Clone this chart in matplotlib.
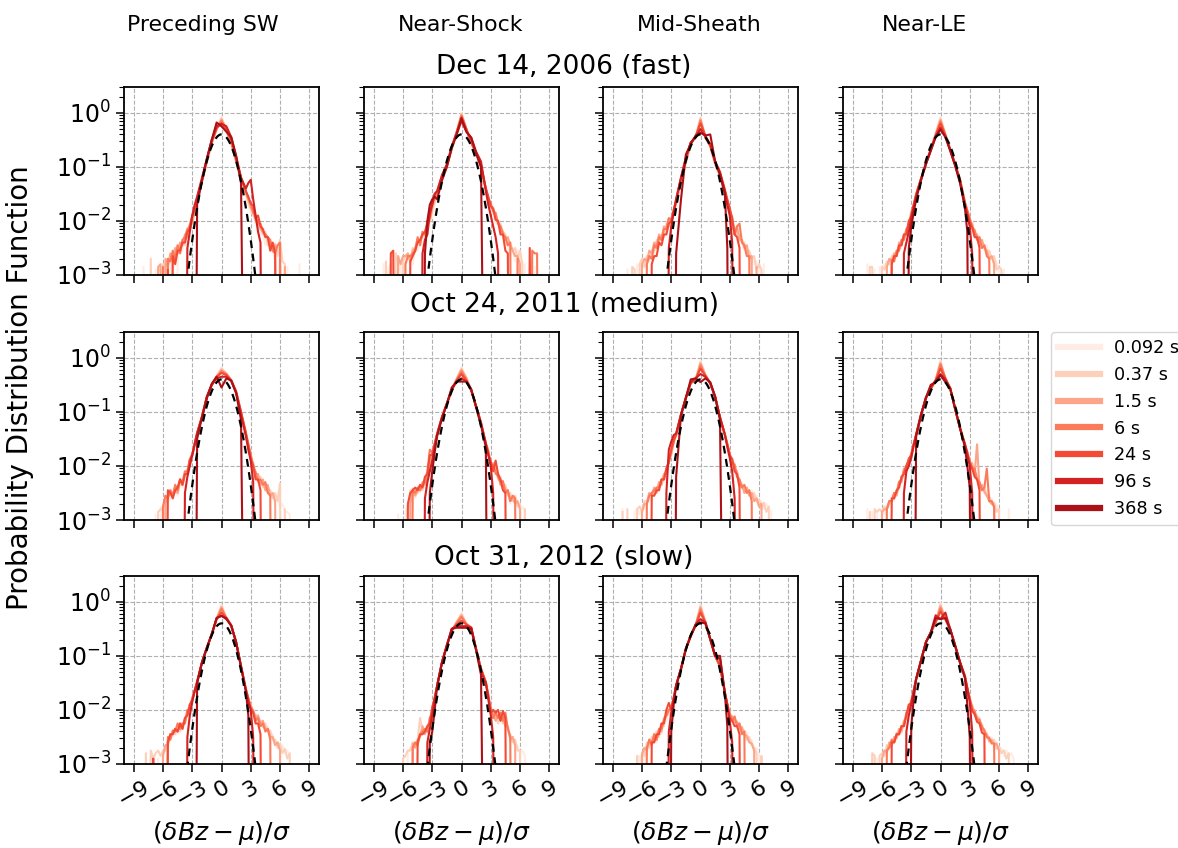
import numpy as np
import matplotlib
matplotlib.use("Agg")
import matplotlib.pyplot as plt

# ---------------- data ----------------
Z = -9.0  # empty histogram bin (zero count) -> drops off the log axis

# bin centres: fine in the tails, coarser in the core
bin_centers = [-8.0, -7.75, -7.5, -7.25, -7.0, -6.75, -6.5, -6.25, -6.0, -5.75, -5.5,
               -5.25, -5.0, -4.75, -4.5, -4.25, -4.0, -3.75, -3.5, -3.25, -3.0, -2.75,
               -2.5, -2.0, -1.5, -1.0, -0.5, 0.0, 0.5, 1.0, 1.5, 2.0, 2.5,
               2.75, 3.0, 3.25, 3.5, 3.75, 4.0, 4.25, 4.5, 4.75, 5.0, 5.25,
               5.5, 5.75, 6.0, 6.25, 6.5, 6.75, 7.0, 7.25, 7.5, 7.75, 8.0]

scales = ['0.092 s', '0.37 s', '1.5 s', '6 s', '24 s', '96 s', '368 s']
regions = ['Preceding SW', 'Near-Shock', 'Mid-Sheath', 'Near-LE']
events = ['Dec 14, 2006 (fast)', 'Oct 24, 2011 (medium)', 'Oct 31, 2012 (slow)']
xtick_values = [-9, -6, -3, 0, 3, 6, 9]

# log10(PDF) per scale (rows: 0.092 s ... 368 s) at bin_centers
dec14_sw = [
    [-2.85, Z, Z, Z, Z, -2.9, Z, -2.85, Z, -2.8, Z, -2.75, -2.65, Z, -2.6, -2.5, -2.55, -2.35, -2.35, -2.15, -2.1, -1.85,
     -1.6, -1.3, -0.9, -0.55, -0.28, -0.07, -0.3, -0.58, -0.92, -1.28, -1.55,
     -1.7, -1.85, -1.85, -2.05, -2.05, -2.25, -2.25, -2.45, -2.3, -2.55, -2.55, -2.75, Z, -2.5, Z, Z, -2.85, Z, Z, Z, Z, -2.8],
    [Z, Z, Z, -2.7, Z, Z, -2.9, Z, -2.8, -2.85, -2.7, Z, -2.6, -2.7, -2.45, -2.6, -2.35, -2.45, -2.15, -2.2, -2.0, -1.82,
     -1.62, -1.28, -0.92, -0.56, -0.3, -0.1, -0.3, -0.56, -0.9, -1.25, -1.5,
     -1.65, -1.78, -1.9, -1.95, -2.12, -2.1, -2.25, -2.2, -2.45, -2.4, -2.55, -2.42, -2.65, -2.35, -2.75, -2.8, Z, Z, Z, Z, Z, Z],
    [Z, Z, Z, Z, Z, Z, -2.85, -2.8, Z, -2.7, -2.85, -2.6, -2.75, -2.5, -2.6, -2.4, -2.45, -2.25, -2.3, -2.05, -2.05, -1.8,
     -1.6, -1.27, -0.9, -0.55, -0.3, -0.12, -0.32, -0.55, -0.88, -1.22, -1.48,
     -1.6, -1.75, -1.8, -2.0, -2.0, -2.15, -2.2, -2.28, -2.3, -2.45, -2.5, -2.45, Z, -2.7, Z, -2.85, Z, Z, Z, Z, Z, Z],
    [Z, Z, Z, Z, Z, Z, Z, Z, -2.85, Z, -2.7, -2.75, -2.55, -2.7, -2.45, -2.6, -2.35, -2.3, -2.15, -2.1, -1.9, -1.8,
     -1.58, -1.25, -0.88, -0.55, -0.3, -0.15, -0.33, -0.55, -0.88, -1.2, -1.45,
     -1.58, -1.68, -1.85, -1.9, -2.05, -2.05, -2.2, -2.25, -2.3, -2.35, -2.55, -2.6, -2.45, -2.4, Z, Z, Z, Z, Z, Z, Z, Z],
    [Z, Z, Z, Z, Z, Z, Z, Z, Z, Z, -2.9, Z, -2.65, -2.8, -2.55, -2.55, -2.4, -2.4, -2.2, -2.15, -1.92, -1.78,
     -1.6, -1.25, -0.85, -0.52, -0.28, -0.2, -0.3, -0.5, -0.85, -1.2, -1.45,
     -1.55, -1.68, -1.72, -1.95, -1.9, -2.1, -2.15, -2.3, -2.3, -2.55, -2.4, -2.6, Z, Z, Z, Z, Z, Z, Z, Z, Z, Z],
    [Z] * 18 + [-2.5, -2.2, -1.9, -1.7,
     -1.55, -1.2, -0.85, -0.5, -0.25, -0.2, -0.25, -0.45, -0.8, -1.2, -1.4,
     -1.3, -1.24, -1.6, -1.9, -2.2, -2.4] + [Z] * 16,
    [Z] * 22 + [-1.7, -1.25, -0.85, -0.5, -0.18, -0.25, -0.35, -0.45, -0.8, -1.3, Z] + [Z] * 22,
]
dec14_shock = [
    [-2.8, Z, -2.85, Z, Z, -2.9, Z, -2.8, Z, -2.75, Z, -2.7, -2.8, -2.55, -2.55, -2.4, -2.45, -2.25, -2.25, -1.95, -1.95, -1.7,
     -1.55, -1.25, -1.0, -0.68, -0.37, 0.0, -0.32, -0.58, -0.8, -1.05, -1.45,
     -1.65, -1.82, -1.88, -2.05, -2.05, -2.25, -2.25, -2.45, -2.45, -2.65, -2.5, -2.75, -2.55, -2.7, Z, -2.8, Z, Z, Z, -2.85, Z, Z],
    [Z, -2.75, Z, -2.8, Z, -2.6, -2.75, Z, -2.75, -2.65, -2.65, -2.75, -2.5, -2.55, -2.4, -2.4, -2.25, -2.3, -2.1, -2.0, -1.8, -1.65,
     -1.5, -1.22, -1.0, -0.66, -0.37, -0.02, -0.31, -0.56, -0.76, -1.0, -1.42,
     -1.62, -1.72, -1.85, -1.88, -2.05, -2.05, -2.2, -2.25, -2.45, -2.4, -2.55, -2.5, -2.7, -2.55, -2.8, Z, Z, Z, -2.7, Z, Z, Z],
    [Z, Z, Z, Z, Z, Z, -2.65, -2.8, -2.65, -2.65, -2.6, -2.75, -2.55, -2.5, -2.35, -2.4, -2.25, -2.25, -2.05, -2.0, -1.75, -1.6,
     -1.5, -1.2, -0.98, -0.65, -0.37, -0.03, -0.31, -0.55, -0.74, -1.0, -1.42,
     -1.6, -1.75, -1.75, -1.95, -2.0, -2.15, -2.2, -2.35, -2.3, -2.45, -2.55, -2.65, -2.65, -2.8, Z, Z, Z, Z, Z, Z, Z, Z],
    [Z, Z, Z, Z, Z, Z, Z, Z, Z, -2.8, -2.65, -2.65, -2.6, -2.55, -2.3, -2.45, -2.2, -2.25, -2.0, -1.95, -1.7, -1.55,
     -1.48, -1.2, -0.99, -0.64, -0.36, -0.05, -0.3, -0.55, -0.74, -0.98, -1.4,
     -1.58, -1.68, -1.82, -1.85, -2.05, -2.1, -2.25, -2.3, -2.45, -2.4, Z, Z, -2.7, Z, Z, Z, Z, Z, -2.55, -2.6, -2.6, Z],
    [Z, Z, Z, -2.6, -2.55, Z, Z, Z, Z, Z, Z, -2.75, -2.65, -2.55, -2.4, -2.35, -2.25, -2.2, -2.05, -1.9, -1.65, -1.5,
     -1.45, -1.18, -0.97, -0.63, -0.36, -0.08, -0.3, -0.55, -0.74, -0.99, -1.4,
     -1.55, -1.72, -1.78, -1.98, -2.0, -2.25, -2.25, -2.55, -2.6, Z, Z, Z, Z, Z, Z, Z, Z, -2.5, Z, Z, Z, Z],
    [Z] * 16 + [-2.6, -2.35, -2.25, -1.85, -1.7, -1.5,
     -1.45, -1.15, -0.95, -0.62, -0.4, -0.15, -0.35, -0.46, -0.72, -0.9, -1.45,
     -1.7, -1.9, -2.1, -2.3, -2.6] + [Z] * 17,
    [Z] * 17 + [-2.6, -2.0, -1.7, -1.6, -1.55,
     -1.6, -1.25, -1.0, -0.66, -0.4, -0.1, -0.35, -0.46, -0.75, -1.0, Z] + [Z] * 22,
]
dec14_mid = [
    [Z, Z, -2.9, Z, -2.85, Z, -2.8, -2.85, -2.75, Z, -2.7, -2.75, -2.6, -2.6, -2.4, -2.45, -2.3, -2.3, -2.1, -2.1, -1.95, -1.88,
     -1.7, -1.3, -0.95, -0.6, -0.45, -0.08, -0.45, -0.65, -0.98, -1.2, -1.5,
     -1.68, -1.88, -1.98, -2.22, -2.15, -2.38, -2.35, -2.55, -2.45, -2.65, -2.65, -2.8, -2.75, -2.9, Z, -2.8, Z, Z, Z, Z, Z, Z],
    [Z, Z, Z, Z, -2.85, -2.9, Z, -2.8, -2.7, -2.85, -2.65, -2.7, -2.55, -2.55, -2.35, -2.4, -2.25, -2.25, -2.05, -2.1, -1.95, -1.85,
     -1.68, -1.25, -0.92, -0.58, -0.45, -0.1, -0.46, -0.62, -0.95, -1.17, -1.48,
     -1.65, -1.78, -2.02, -2.12, -2.25, -2.25, -2.4, -2.4, -2.6, -2.55, -2.7, -2.65, -2.9, -2.8, -2.9, Z, Z, Z, Z, Z, Z, Z],
    [Z, Z, Z, Z, Z, Z, Z, Z, -2.8, -2.7, -2.75, -2.55, -2.6, -2.4, -2.45, -2.25, -2.35, -2.1, -2.15, -1.95, -2.0, -1.82,
     -1.67, -1.23, -0.9, -0.56, -0.46, -0.12, -0.46, -0.62, -0.93, -1.15, -1.48,
     -1.64, -1.82, -1.92, -2.25, -2.1, -2.35, -2.35, -2.5, -2.45, -2.7, -2.65, Z, -2.85, Z, Z, Z, Z, Z, Z, Z, Z, Z],
    [Z, Z, Z, Z, Z, Z, Z, Z, Z, Z, -2.8, -2.65, -2.7, -2.45, -2.5, -2.3, -2.35, -2.15, -2.15, -1.95, -1.98, -1.8,
     -1.65, -1.22, -0.88, -0.56, -0.45, -0.15, -0.45, -0.6, -0.92, -1.12, -1.45,
     -1.62, -1.75, -2.05, -2.25, -2.1, -2.05, -2.4, -2.45, -2.65, -2.65, Z, Z, Z, Z, Z, Z, Z, Z, Z, Z, Z, Z],
    [Z, Z, Z, Z, Z, Z, Z, Z, Z, Z, Z, Z, -2.8, -2.65, -2.65, -2.4, -2.45, -2.25, -2.25, -2.05, -2.0, -1.8,
     -1.6, -1.2, -0.85, -0.55, -0.44, -0.2, -0.42, -0.6, -0.9, -1.1, -1.42,
     -1.6, -1.78, -1.95, -2.25, -2.3, -2.5] + [Z] * 16,
    [Z] * 19 + [-2.5, -2.1, -1.85,
     -1.6, -1.2, -0.82, -0.55, -0.45, -0.3, -0.44, -0.58, -0.9, -1.1, -1.45,
     -1.7, -1.9, -2.4] + [Z] * 19,
    [Z] * 22 + [-2.6, -1.6, -0.77, -0.58, -0.42, -0.37, -0.42, -0.4, -0.9, -1.15, -1.5,
     -2.5] + [Z] * 21,
]
dec14_le = [
    [Z, Z, -2.8, Z, Z, -2.9, Z, -2.85, -2.9, -2.8, -2.85, -2.7, -2.75, -2.6, -2.65, -2.45, -2.5, -2.3, -2.3, -2.05, -2.0, -1.75,
     -1.55, -1.25, -0.95, -0.66, -0.38, -0.08, -0.38, -0.66, -0.95, -1.25, -1.7,
     -1.85, -2.05, -2.05, -2.25, -2.25, -2.45, -2.35, -2.55, -2.45, -2.65, -2.65, -2.8, -2.75, -2.9, Z, -2.9, Z, Z, Z, Z, Z, Z],
    [Z, Z, Z, -2.85, -2.85, Z, Z, Z, -2.85, -2.9, -2.75, -2.8, -2.65, -2.7, -2.55, -2.55, -2.35, -2.35, -2.15, -2.1, -1.85, -1.72,
     -1.55, -1.24, -0.95, -0.67, -0.39, -0.1, -0.4, -0.67, -0.95, -1.22, -1.67,
     -1.82, -1.95, -2.15, -2.15, -2.3, -2.3, -2.5, -2.45, -2.6, -2.55, -2.7, -2.65, -2.9, -2.85, -2.9, Z, Z, Z, Z, Z, Z, Z],
    [Z, Z, Z, Z, Z, Z, Z, Z, Z, Z, -2.85, -2.7, -2.75, -2.6, -2.65, -2.4, -2.45, -2.25, -2.25, -2.0, -1.95, -1.7,
     -1.53, -1.23, -0.95, -0.68, -0.4, -0.13, -0.4, -0.68, -0.95, -1.23, -1.65,
     -1.82, -2.0, -2.05, -2.25, -2.25, -2.4, -2.35, -2.5, -2.55, -2.7, -2.65, -2.8, Z, Z, Z, Z, Z, Z, Z, Z, Z, Z],
    [Z, Z, Z, Z, Z, Z, Z, Z, Z, Z, Z, Z, -2.72, -2.75, -2.55, -2.55, -2.35, -2.35, -2.15, -2.1, -1.85, -1.7,
     -1.52, -1.22, -0.94, -0.68, -0.42, -0.16, -0.41, -0.68, -0.95, -1.23, -1.65,
     -1.8, -1.95, -2.12, -2.18, -2.35, -2.3, -2.5, -2.45, -2.65, -2.7] + [Z] * 12,
    [Z, Z, Z, Z, Z, Z, Z, Z, Z, Z, Z, Z, -2.8, -2.65, -2.65, -2.45, -2.45, -2.25, -2.25, -2.0, -1.92, -1.7,
     -1.5, -1.22, -0.93, -0.68, -0.42, -0.2, -0.42, -0.68, -0.95, -1.25, -1.68,
     -1.85, -2.02, -2.12, -2.3, -2.3, -2.5] + [Z] * 16,
    [Z] * 17 + [-2.6, -2.4, -2.2, -1.95, -1.75,
     -1.55, -1.23, -0.95, -0.7, -0.44, -0.28, -0.44, -0.7, -0.97, -1.27, -1.7,
     -1.9, -2.1, -2.6] + [Z] * 19,
    [Z] * 19 + [-2.5, -2.1, -1.85,
     -1.6, -1.25, -0.95, -0.7, -0.45, -0.31, -0.45, -0.7, -0.98, -1.3, -1.75,
     -2.2] + [Z] * 21,
]
oct24_sw = [
    [Z, Z, Z, Z, Z, -2.9, Z, -2.75, -2.85, -2.65, -2.65, -2.6, -2.6, -2.45, -2.55, -2.35, -2.4, -2.2, -2.15, -1.92, -1.85, -1.62,
     -1.42, -1.1, -0.73, -0.5, -0.33, -0.17, -0.28, -0.42, -0.65, -1.05, -1.42,
     -1.62, -1.88, -1.95, -2.2, -2.15, -2.35, -2.25, -2.45, -2.4, -2.55, -2.55, -2.65, -2.6, -2.75, -2.7, -2.85, -2.85, -2.9, Z, Z, Z, Z],
    [Z, Z, Z, Z, Z, Z, -2.85, -2.8, -2.8, -2.55, -2.6, -2.45, -2.55, -2.4, -2.5, -2.3, -2.35, -2.15, -2.1, -1.9, -1.8, -1.6,
     -1.4, -1.09, -0.72, -0.5, -0.34, -0.2, -0.29, -0.41, -0.63, -1.02, -1.4,
     -1.65, -1.8, -2.05, -2.1, -2.25, -2.2, -2.4, -2.35, -2.5, -2.45, -2.6, -2.5, -2.65, -2.32, Z, -2.8, Z, Z, Z, Z, Z, Z],
    [Z, Z, Z, Z, Z, Z, Z, Z, Z, -2.7, -2.55, -2.45, -2.55, -2.45, -2.5, -2.25, -2.35, -2.15, -2.15, -1.88, -1.8, -1.6,
     -1.4, -1.08, -0.72, -0.5, -0.35, -0.22, -0.3, -0.42, -0.64, -1.02, -1.4,
     -1.6, -1.85, -1.95, -2.15, -2.15, -2.35, -2.25, -2.45, -2.35, -2.55, -2.5, -2.65, Z, Z, Z, Z, Z, Z, Z, Z, Z, Z],
    [Z, Z, Z, Z, Z, Z, Z, Z, -2.75, -2.55, -2.6, -2.45, -2.55, -2.35, -2.45, -2.25, -2.3, -2.1, -2.1, -1.88, -1.78, -1.58,
     -1.38, -1.08, -0.72, -0.5, -0.36, -0.25, -0.3, -0.42, -0.63, -1.0, -1.38,
     -1.6, -1.78, -2.02, -2.12, -2.28, -2.25, -2.35, -2.3, -2.5, -2.55] + [Z] * 12,
    [Z, Z, Z, Z, Z, Z, Z, Z, Z, Z, -2.45, -2.5, -2.6, -2.45, -2.4, -2.25, -2.35, -2.15, -2.15, -1.9, -1.8, -1.6,
     -1.4, -1.1, -0.72, -0.5, -0.35, -0.28, -0.32, -0.42, -0.62, -1.0, -1.4,
     -1.62, -1.88, -2.0, -2.25, -2.25, -2.45] + [Z] * 16,
    [Z] * 17 + [-2.5, -2.2, -2.0, -1.8, -1.6,
     -1.4, -1.1, -0.72, -0.5, -0.38, -0.35, -0.35, -0.43, -0.65, -1.05, -1.45,
     -1.7, -1.9, -2.3] + [Z] * 19,
    [Z] * 22 + [-1.5, -1.1, -0.75, -0.48, -0.35, -0.55, -0.38, -0.42, -0.65, -1.15, Z] + [Z] * 22,
]
oct24_shock = [
    [Z, Z, Z, Z, Z, Z, -2.9, Z, Z, -2.85, -2.75, -2.65, -2.55, -2.6, -2.45, -2.5, -2.4, -2.4, -2.2, -2.1, -1.85, -1.62,
     -1.42, -1.1, -0.85, -0.6, -0.38, -0.17, -0.36, -0.6, -0.9, -1.22, -1.6,
     -1.75, -2.0, -1.98, -2.15, -2.15, -2.35, -2.3, -2.5, -2.45, -2.7, -2.55, -2.65, -2.65, -2.8, -2.75, -2.85, Z, Z, Z, Z, Z, Z],
    [Z, Z, Z, Z, Z, Z, Z, Z, Z, Z, -2.85, -2.45, -2.55, -2.5, -2.5, -2.35, -2.45, -2.25, -2.25, -1.95, -1.92, -1.6,
     -1.4, -1.09, -0.84, -0.6, -0.39, -0.2, -0.37, -0.6, -0.9, -1.21, -1.58,
     -1.72, -1.92, -2.05, -2.0, -2.25, -2.2, -2.4, -2.35, -2.55, -2.5, -2.65, -2.55, -2.75, -2.7, Z, -2.8, Z, Z, Z, Z, Z, Z],
    [Z, Z, Z, Z, Z, Z, Z, Z, Z, Z, Z, -2.7, -2.42, -2.55, -2.45, -2.45, -2.3, -2.35, -2.15, -2.0, -1.75, -1.6,
     -1.4, -1.09, -0.84, -0.6, -0.4, -0.22, -0.38, -0.6, -0.9, -1.21, -1.58,
     -1.78, -1.95, -1.95, -2.15, -2.15, -2.35, -2.3, -2.45, -2.45, -2.65, -2.6, -2.7, -2.65, -2.8] + [Z] * 8,
    [Z, Z, Z, Z, Z, Z, Z, Z, Z, Z, Z, Z, -2.45, -2.5, -2.4, -2.45, -2.35, -2.3, -2.1, -1.7, -1.75, -1.58,
     -1.4, -1.1, -0.85, -0.6, -0.41, -0.25, -0.4, -0.6, -0.9, -1.2, -1.58,
     -1.72, -1.98, -1.98, -2.12, -2.2, -2.3, -2.28, -2.5, -2.45, -2.65, -2.55, -2.6] + [Z] * 10,
    [Z, Z, Z, Z, Z, Z, Z, Z, Z, Z, -2.7, -2.5, -2.45, -2.4, -2.45, -2.35, -2.4, -2.2, -2.15, -1.8, -1.8, -1.6,
     -1.42, -1.1, -0.85, -0.6, -0.42, -0.3, -0.42, -0.6, -0.9, -1.2, -1.6,
     -1.78, -1.92, -2.1, -1.9, -2.15, -2.25, -2.45, -2.5] + [Z] * 14,
    [Z] * 17 + [-2.6, -2.3, -2.1, -1.9, -1.65,
     -1.42, -1.1, -0.85, -0.58, -0.44, -0.38, -0.44, -0.6, -0.9, -1.22, -1.6,
     -1.8, -2.0, -2.5] + [Z] * 19,
    [Z] * 19 + [-2.5, -2.1, -1.75,
     -1.45, -1.12, -0.85, -0.55, -0.44, -0.44, -0.44, -0.58, -0.92, -1.25, -1.65] + [Z] * 22,
]
oct24_mid = [
    [-2.8, Z, Z, Z, Z, -2.85, -2.8, -2.9, -2.75, -2.8, -2.65, -2.65, -2.55, -2.55, -2.4, -2.45, -2.3, -2.3, -2.1, -2.0, -1.75, -1.6,
     -1.45, -1.08, -0.76, -0.47, -0.4, -0.05, -0.3, -0.47, -0.73, -1.14, -1.45,
     -1.62, -1.85, -1.88, -2.05, -2.15, -2.35, -2.3, -2.5, -2.4, -2.55, -2.45, -2.6, -2.55, -2.75, -2.65, -2.8, -2.7, -2.8, -2.85, Z, Z, Z],
    [-2.85, Z, -2.8, Z, Z, Z, -2.8, -2.75, -2.85, -2.65, -2.65, -2.5, -2.55, -2.45, -2.45, -2.3, -2.35, -2.15, -2.15, -1.88, -1.8, -1.55,
     -1.43, -1.06, -0.75, -0.47, -0.41, -0.08, -0.32, -0.47, -0.72, -1.12, -1.43,
     -1.58, -1.78, -1.95, -1.95, -2.2, -2.25, -2.4, -2.38, -2.5, -2.45, -2.6, -2.5, -2.65, -2.62, -2.8, -2.68, -2.85, -2.75, Z, Z, Z, Z],
    [Z, Z, Z, Z, Z, Z, Z, Z, -2.85, -2.7, -2.7, -2.5, -2.55, -2.4, -2.5, -2.3, -2.35, -2.15, -2.15, -1.88, -1.78, -1.55,
     -1.43, -1.06, -0.75, -0.47, -0.41, -0.1, -0.32, -0.47, -0.72, -1.12, -1.43,
     -1.6, -1.82, -1.86, -2.05, -2.1, -2.35, -2.35, -2.5, -2.4, -2.55, -2.5, -2.65, -2.6, -2.75, -2.7, Z, Z, Z, Z, Z, Z, Z],
    [Z, Z, Z, Z, Z, Z, Z, Z, Z, Z, -2.7, -2.55, -2.5, -2.45, -2.4, -2.4, -2.25, -2.25, -2.05, -1.95, -1.72, -1.55,
     -1.42, -1.05, -0.74, -0.47, -0.41, -0.14, -0.33, -0.47, -0.72, -1.1, -1.42,
     -1.6, -1.78, -1.95, -1.98, -2.2, -2.25, -2.4, -2.35, -2.5, -2.45, -2.65] + [Z] * 11,
    [Z, Z, Z, Z, Z, Z, Z, Z, Z, Z, Z, Z, -2.55, -2.55, -2.45, -2.45, -2.25, -2.25, -2.05, -1.92, -1.7, -1.52,
     -1.42, -1.05, -0.74, -0.46, -0.4, -0.2, -0.33, -0.47, -0.72, -1.1, -1.42,
     -1.6, -1.8, -1.88, -2.1, -2.15, -2.4] + [Z] * 16,
    [Z] * 18 + [-2.5, -1.7, -1.55, -1.43,
     -1.4, -1.05, -0.74, -0.45, -0.38, -0.3, -0.35, -0.47, -0.72, -1.1, -1.42,
     -1.65, -1.85, -2.1, -2.6] + [Z] * 18,
    [Z] * 22 + [-2.2, -1.06, -0.74, -0.4, -0.38, -0.45, -0.38, -0.45, -0.72, -1.15, Z] + [Z] * 22,
]
oct24_le = [
    [Z, Z, -2.8, Z, -2.85, Z, -2.85, Z, -2.8, -2.9, -2.72, -2.75, -2.55, -2.65, -2.45, -2.45, -2.2, -2.2, -1.95, -1.95, -1.75, -1.62,
     -1.43, -1.06, -0.75, -0.57, -0.41, -0.05, -0.38, -0.57, -0.94, -1.3, -1.6,
     -1.75, -1.95, -1.98, -2.15, -2.15, -2.4, -2.35, -2.5, -2.45, -2.65, -2.6, -2.75, -2.7, -2.85, Z, Z, Z, -2.8, Z, Z, Z, Z],
    [Z, Z, Z, -2.85, Z, -2.8, -2.85, -2.8, -2.85, -2.75, -2.8, -2.65, -2.65, -2.5, -2.52, -2.3, -2.3, -2.05, -2.05, -1.85, -1.85, -1.6,
     -1.45, -1.08, -0.73, -0.58, -0.4, -0.07, -0.4, -0.55, -0.96, -1.28, -1.62,
     -1.72, -1.9, -2.05, -2.08, -2.25, -2.3, -2.45, -2.4, -2.55, -2.55, -2.7, -2.68, -2.85, -2.8, Z, Z, Z, Z, Z, Z, Z, Z],
    [Z, Z, Z, Z, Z, Z, Z, Z, -2.85, -2.8, -2.8, -2.65, -2.65, -2.5, -2.55, -2.3, -2.3, -2.05, -2.1, -1.85, -1.82, -1.6,
     -1.42, -1.05, -0.76, -0.56, -0.42, -0.1, -0.37, -0.58, -0.93, -1.31, -1.58,
     -1.75, -1.95, -1.95, -2.15, -1.6, -2.4, -2.35, -2.48, -2.55, -2.65, -2.7, -2.75] + [Z] * 10,
    [Z, Z, Z, Z, Z, Z, Z, Z, Z, Z, -2.8, -2.65, -2.65, -2.5, -2.5, -2.3, -2.25, -2.1, -2.0, -1.92, -1.78, -1.6,
     -1.44, -1.07, -0.74, -0.57, -0.43, -0.12, -0.39, -0.56, -0.95, -1.29, -1.61,
     -1.78, -1.9, -2.05, -2.05, -2.25, -2.3, -2.45, -2.4, -2.05, -2.65, -2.65, -2.75] + [Z] * 10,
    [Z, Z, Z, Z, Z, Z, Z, Z, Z, Z, Z, Z, -2.6, -2.6, -2.45, -2.4, -2.2, -2.15, -2.0, -1.88, -1.8, -1.6,
     -1.42, -1.05, -0.75, -0.57, -0.42, -0.2, -0.38, -0.57, -0.94, -1.3, -1.6,
     -1.75, -1.95, -2.05, -2.2, -2.25, -2.45] + [Z] * 16,
    [Z] * 17 + [-2.5, -2.1, -2.0, -1.85, -1.62,
     -1.42, -1.05, -0.74, -0.55, -0.42, -0.3, -0.4, -0.57, -0.94, -1.3, -1.6,
     -1.8, -2.0, -2.5] + [Z] * 19,
    [Z] * 22 + [-1.45, -1.06, -0.74, -0.5, -0.45, -0.32, -0.45, -0.57, -0.94, -1.3, -1.65,
     -2.0, -2.4] + [Z] * 20,
]
oct31_sw = [
    [Z, Z, Z, -2.8, -2.85, Z, -2.9, Z, -2.8, -2.7, -2.7, -2.5, -2.5, -2.4, -2.45, -2.3, -2.35, -2.15, -2.1, -1.92, -1.85, -1.65,
     -1.49, -1.12, -0.85, -0.6, -0.32, -0.05, -0.29, -0.44, -0.75, -1.19, -1.62,
     -1.8, -1.95, -1.98, -2.15, -2.15, -2.3, -2.25, -2.35, -2.3, -2.45, -2.45, -2.65, -2.6, -2.75, -2.65, -2.8, -2.75, -2.85, Z, Z, Z, Z],
    [Z, -2.8, Z, -2.75, -2.9, -2.8, -2.75, -2.85, -2.75, -2.75, -2.55, -2.55, -2.4, -2.45, -2.3, -2.4, -2.25, -2.25, -2.0, -2.0, -1.78, -1.65,
     -1.5, -1.1, -0.86, -0.58, -0.33, -0.07, -0.3, -0.43, -0.77, -1.17, -1.63,
     -1.78, -1.9, -2.05, -2.08, -2.25, -2.2, -2.32, -2.25, -2.4, -2.38, -2.55, -2.55, -2.7, -2.62, -2.8, -2.72, -2.9, -2.8, Z, Z, Z, Z],
    [Z, Z, Z, Z, Z, Z, Z, Z, -2.85, -2.65, -2.65, -2.45, -2.45, -2.35, -2.4, -2.25, -2.35, -2.15, -2.1, -1.9, -1.82, -1.65,
     -1.48, -1.13, -0.84, -0.61, -0.31, -0.1, -0.31, -0.45, -0.74, -1.2, -1.6,
     -1.82, -1.92, -2.02, -2.15, -2.1, -2.25, -2.2, -2.35, -2.35, -2.5, -2.5, -2.65, -2.6, -2.75, Z, Z, Z, Z, Z, Z, Z, Z],
    [Z, Z, Z, Z, Z, Z, Z, Z, Z, Z, -2.5, -2.55, -2.38, -2.4, -2.25, -2.35, -2.25, -2.25, -2.0, -2.0, -1.78, -1.64,
     -1.48, -1.12, -0.85, -0.6, -0.32, -0.13, -0.3, -0.44, -0.75, -1.19, -1.62,
     -1.78, -1.95, -2.02, -2.2, -2.15, -2.3, -2.25, -2.4, -2.35, -2.55] + [Z] * 12,
    [Z, Z, Z, Z, -2.9, Z, Z, Z, Z, Z, -2.6, -2.45, -2.45, -2.35, -2.4, -2.25, -2.35, -2.15, -2.1, -1.9, -1.82, -1.64,
     -1.48, -1.12, -0.85, -0.6, -0.32, -0.2, -0.3, -0.44, -0.75, -1.19, -1.62,
     -1.8, -1.98, -2.05, -2.25, -2.25, -2.45] + [Z] * 16,
    [Z] * 18 + [-2.5, -2.1, -1.85, -1.65,
     -1.49, -1.12, -0.85, -0.6, -0.3, -0.26, -0.3, -0.44, -0.75, -1.2, -1.65,
     -1.85, -2.0, -2.5] + [Z] * 19,
    [Z] * 22 + [-1.5, -1.12, -0.85, -0.6, -0.3, -0.26, -0.32, -0.44, -0.75, -1.2, -1.65,
     -2.1] + [Z] * 21,
]
oct31_shock = [
    [Z, Z, Z, Z, Z, Z, Z, Z, Z, Z, -2.8, -2.7, -2.75, -2.6, -2.65, -2.45, -2.45, -2.4, -2.4, -2.15, -2.05, -1.8,
     -1.56, -1.12, -0.81, -0.54, -0.38, -0.2, -0.41, -0.48, -0.88, -1.24, -1.49,
     -1.75, -2.05, -2.05, -2.2, -2.1, -2.15, -2.15, -2.25, -2.3, -2.5, -2.5, -2.65, -2.65, -2.8, -2.75, -2.85, Z, Z, Z, Z, Z, Z],
    [Z, Z, Z, Z, Z, Z, Z, Z, -2.9, -2.85, -2.75, -2.75, -2.6, -2.65, -2.55, -2.15, -2.4, -2.35, -2.42, -2.15, -2.05, -1.8,
     -1.58, -1.1, -0.83, -0.52, -0.39, -0.23, -0.4, -0.5, -0.86, -1.26, -1.47,
     -1.78, -1.95, -2.15, -2.1, -2.25, -2.05, -2.25, -2.15, -2.35, -2.45, -2.6, -2.55, -2.75, -2.75, Z, Z, Z, Z, Z, Z, Z, Z],
    [Z, Z, Z, Z, Z, Z, Z, Z, Z, Z, Z, Z, -2.62, -2.7, -2.55, -2.5, -2.3, -2.45, -2.3, -2.25, -1.95, -1.8,
     -1.55, -1.13, -0.8, -0.55, -0.37, -0.25, -0.42, -0.47, -0.89, -1.23, -1.5,
     -1.72, -2.02, -2.05, -2.2, -2.1, -2.2, -2.15, -2.3, -2.3, -2.55, -2.5, -2.65] + [Z] * 10,
    [Z, Z, Z, Z, Z, Z, Z, Z, Z, Z, Z, Z, -2.7, -2.6, -2.65, -2.45, -2.4, -2.35, -2.4, -2.15, -2.05, -1.78,
     -1.56, -1.12, -0.81, -0.54, -0.4, -0.28, -0.41, -0.48, -0.88, -1.24, -1.49,
     -1.78, -1.95, -2.15, -2.05, -2.15, -2.05, -2.2, -2.05, -2.35, -2.5] + [Z] * 12,
    [Z, Z, Z, Z, Z, Z, Z, Z, Z, Z, Z, Z, Z, Z, -2.6, -2.45, -2.45, -2.4, -2.3, -2.25, -1.95, -1.78,
     -1.55, -1.12, -0.8, -0.52, -0.42, -0.35, -0.42, -0.48, -0.88, -1.24, -1.5,
     -1.72, -2.05, -2.0, -2.05, -2.0, -2.2, -2.02, -2.15] + [Z] * 14,
    [Z] * 18 + [-2.6, -2.35, -2.1, -1.8,
     -1.56, -1.12, -0.8, -0.5, -0.45, -0.45, -0.45, -0.48, -0.88, -1.3, -1.5,
     -1.8, -2.1, -2.5] + [Z] * 19,
    [Z] * 19 + [-2.6, -2.4, -2.0,
     -1.56, -1.12, -0.82, -0.5, -0.48, -0.48, -0.48, -0.5, -0.9, -1.35, Z] + [Z] * 22,
]
oct31_mid = [
    [Z, Z, Z, Z, Z, Z, Z, -2.85, Z, -2.7, -2.8, -2.55, -2.65, -2.45, -2.6, -2.35, -2.45, -2.15, -2.2, -1.95, -2.05, -1.8,
     -1.55, -1.24, -0.87, -0.63, -0.44, -0.05, -0.38, -0.69, -1.0, -1.19, -1.68,
     -1.9, -2.15, -2.1, -2.25, -2.2, -2.35, -2.3, -2.5, -2.4, -2.6, -2.55, -2.75, -2.7, -2.85, Z, Z, Z, Z, Z, Z, Z, Z],
    [Z, Z, Z, Z, Z, Z, -2.85, Z, -2.8, -2.85, -2.6, -2.7, -2.5, -2.6, -2.4, -2.5, -2.25, -2.3, -2.0, -2.1, -1.95, -1.8,
     -1.57, -1.22, -0.89, -0.61, -0.45, -0.07, -0.36, -0.7, -0.98, -1.21, -1.66,
     -1.92, -2.08, -2.2, -2.15, -2.3, -2.25, -2.42, -2.38, -2.55, -2.5, -2.65, -2.7, -2.8, Z, -2.85, Z, Z, Z, Z, Z, Z, Z],
    [Z, Z, Z, Z, Z, Z, Z, Z, -2.82, -2.7, -2.75, -2.55, -2.6, -2.45, -2.55, -2.35, -2.4, -2.15, -2.1, -2.0, -2.0, -1.8,
     -1.54, -1.25, -0.86, -0.64, -0.43, -0.1, -0.39, -0.68, -1.01, -1.18, -1.69,
     -1.88, -2.12, -2.12, -2.22, -2.22, -2.35, -2.32, -2.46, -2.48, -2.6, -2.62, -2.75] + [Z] * 10,
    [Z, Z, Z, Z, Z, Z, Z, Z, Z, Z, -2.7, -2.55, -2.65, -2.45, -2.55, -2.35, -2.35, -2.2, -2.1, -2.0, -1.95, -1.78,
     -1.55, -1.24, -0.87, -0.63, -0.44, -0.14, -0.38, -0.69, -1.0, -1.19, -1.68,
     -1.9, -2.05, -2.2, -2.12, -2.3, -2.25, -2.45, -2.4] + [Z] * 14,
    [Z, Z, Z, Z, Z, Z, Z, Z, Z, Z, Z, Z, -2.6, -2.6, -2.45, -2.45, -2.25, -2.25, -2.0, -1.87, -2.0, -1.78,
     -1.55, -1.24, -0.87, -0.63, -0.44, -0.2, -0.38, -0.69, -1.0, -1.19, -1.68,
     -1.92, -2.15, -2.2, -2.3, -2.3, -2.45] + [Z] * 16,
    [Z] * 19 + [-2.4, -2.05, -1.8,
     -1.55, -1.24, -0.87, -0.63, -0.42, -0.32, -0.38, -0.69, -1.0, -1.05, -1.68,
     -1.9, -2.2, -2.6] + [Z] * 19,
    [Z] * 20 + [-2.4, -1.9,
     -1.55, -1.24, -0.87, -0.63, -0.42, -0.38, -0.4, -0.69, -1.0, -1.0, -1.7,
     -2.3] + [Z] * 21,
]
oct31_le = [
    [Z, Z, Z, Z, -2.85, Z, -2.9, Z, -2.85, -2.75, -2.8, -2.6, -2.7, -2.5, -2.55, -2.35, -2.45, -2.2, -2.15, -1.9, -1.9, -1.65,
     -1.43, -1.09, -0.75, -0.57, -0.38, -0.02, -0.32, -0.51, -0.81, -1.12, -1.37,
     -1.6, -1.85, -1.9, -2.1, -2.1, -2.25, -2.25, -2.45, -2.4, -2.6, -2.5, -2.65, -2.6, -2.75, -2.7, -2.85, -2.75, -2.85, -2.8, -2.9, Z, Z],
    [Z, Z, Z, Z, -2.8, -2.85, Z, -2.85, -2.8, -2.85, -2.65, -2.7, -2.55, -2.6, -2.42, -2.45, -2.3, -2.3, -2.05, -2.0, -1.82, -1.65,
     -1.45, -1.07, -0.77, -0.55, -0.39, -0.05, -0.33, -0.5, -0.83, -1.1, -1.39,
     -1.62, -1.78, -2.0, -2.0, -2.2, -2.15, -2.35, -2.35, -2.52, -2.5, -2.62, -2.55, -2.72, -2.68, -2.8, -2.75, -2.9, -2.8, Z, Z, Z, Z],
    [Z, Z, Z, Z, Z, Z, Z, Z, -2.9, -2.75, -2.78, -2.6, -2.65, -2.5, -2.52, -2.35, -2.4, -2.2, -2.15, -1.92, -1.88, -1.65,
     -1.42, -1.1, -0.74, -0.58, -0.37, -0.08, -0.31, -0.52, -0.8, -1.13, -1.36,
     -1.58, -1.82, -1.92, -2.08, -2.12, -2.25, -2.28, -2.42, -2.45, -2.58, -2.55, -2.65, -2.62, -2.75] + [Z] * 8,
    [Z, Z, Z, Z, Z, Z, Z, Z, Z, Z, -2.75, -2.7, -2.55, -2.6, -2.45, -2.45, -2.3, -2.3, -2.05, -2.0, -1.82, -1.65,
     -1.43, -1.09, -0.75, -0.57, -0.38, -0.12, -0.32, -0.51, -0.81, -1.12, -1.37,
     -1.6, -1.78, -1.98, -2.02, -2.18, -2.18, -2.32, -2.38, -2.5, -2.52, -2.62, -2.62] + [Z] * 10,
    [Z, Z, Z, Z, Z, Z, Z, Z, Z, Z, Z, Z, -2.6, -2.6, -2.45, -2.45, -2.3, -2.3, -2.1, -1.9, -1.88, -1.65,
     -1.43, -1.09, -0.75, -0.57, -0.38, -0.18, -0.32, -0.51, -0.81, -1.12, -1.37,
     -1.62, -1.8, -2.02, -2.08, -2.22, -2.25, -2.42, -2.45] + [Z] * 14,
    [Z] * 18 + [-2.4, -2.1, -1.9, -1.65,
     -1.43, -1.09, -0.75, -0.57, -0.25, -0.32, -0.2, -0.51, -0.81, -1.12, -1.4,
     -1.6, -1.85, -2.4] + [Z] * 19,
    [Z] * 20 + [-2.3, -1.8,
     -1.43, -1.09, -0.75, -0.57, -0.3, -0.32, -0.3, -0.51, -0.81, -1.12, -1.4,
     -1.9, -2.5] + [Z] * 20,
]

panels = [
    [dec14_sw, dec14_shock, dec14_mid, dec14_le],
    [oct24_sw, oct24_shock, oct24_mid, oct24_le],
    [oct31_sw, oct31_shock, oct31_mid, oct31_le],
]

# ---------------- figure ----------------
W, H = 1178, 848
fig = plt.figure(figsize=(W / 100, H / 100), dpi=100)

col_left = [124, 364, 603, 843]
row_top = [87, 332, 576]
ax_w, ax_h = 195, 188
colors = plt.cm.Reds(np.linspace(0.05, 0.85, len(scales)))

xg = np.linspace(-5, 5, 401)
gauss = np.exp(-xg ** 2 / 2) / np.sqrt(2 * np.pi)  # standard normal reference

x_arr = np.array(bin_centers)
legend_lines = None
for r in range(3):
    for c in range(4):
        ax = fig.add_axes([col_left[c] / W, 1 - (row_top[r] + ax_h) / H, ax_w / W, ax_h / H])
        lines = []
        for k, series in enumerate(panels[r][c]):
            if len(series) != len(bin_centers):
                raise ValueError(f"panel {r},{c} series {k} has {len(series)} values")
            ln, = ax.plot(x_arr, 10.0 ** np.array(series), color=colors[k], lw=1.5,
                          label=scales[k], zorder=2 + k * 0.01)
            lines.append(ln)
        ax.plot(xg, gauss, color='black', ls='--', lw=1.6, zorder=3, dashes=(3.5, 2.5))
        if legend_lines is None:
            legend_lines = lines
        ax.set_yscale('log')
        ax.set_ylim(1e-3, 3)
        ax.set_xlim(-10, 10)
        ax.set_xticks(xtick_values)
        ax.grid(True, which='major', ls='--', color='#b0b0b0', lw=0.8)
        ax.set_axisbelow(True)
        for sp in ax.spines.values():
            sp.set_linewidth(1.3)
        ax.tick_params(which='major', direction='out', length=6, width=1.1)
        ax.tick_params(which='minor', direction='out', length=3.5, width=0.8)
        if c == 0:
            ax.tick_params(axis='y', labelsize=17)
        else:
            ax.tick_params(axis='y', labelleft=False)
        if r == 2:
            ax.set_xticklabels([('\u2212' if v < 0 else '') + str(abs(v)) for v in xtick_values],
                               rotation=30, fontsize=16)
            ax.set_xlabel(r'$(\delta Bz - \mu)/\sigma$', fontsize=18, labelpad=6)
        else:
            ax.tick_params(axis='x', labelbottom=False)

# column titles
col_title_x = [203, 461, 699, 925]
for name, xc in zip(regions, col_title_x):
    fig.text(xc / W, 1 - 25 / H, name, ha='center', va='center', fontsize=15.8)

# row titles
row_title_y = [67, 305, 558]
for ev, yc in zip(events, row_title_y):
    fig.text(564 / W, 1 - yc / H, ev, ha='center', va='center', fontsize=19)

fig.text(20 / W, 1 - 388 / H, 'Probability Distribution Function', rotation=90,
         ha='center', va='center', fontsize=20)

leg = fig.legend(handles=legend_lines, labels=scales, loc='upper left',
                 bbox_to_anchor=(1051 / W, 1 - 332 / H), borderaxespad=0,
                 fontsize=12.7, handlelength=2.4, frameon=True)
for hl in leg.get_lines():
    hl.set_linewidth(4.5)

fig.savefig('out.png', dpi=100)
